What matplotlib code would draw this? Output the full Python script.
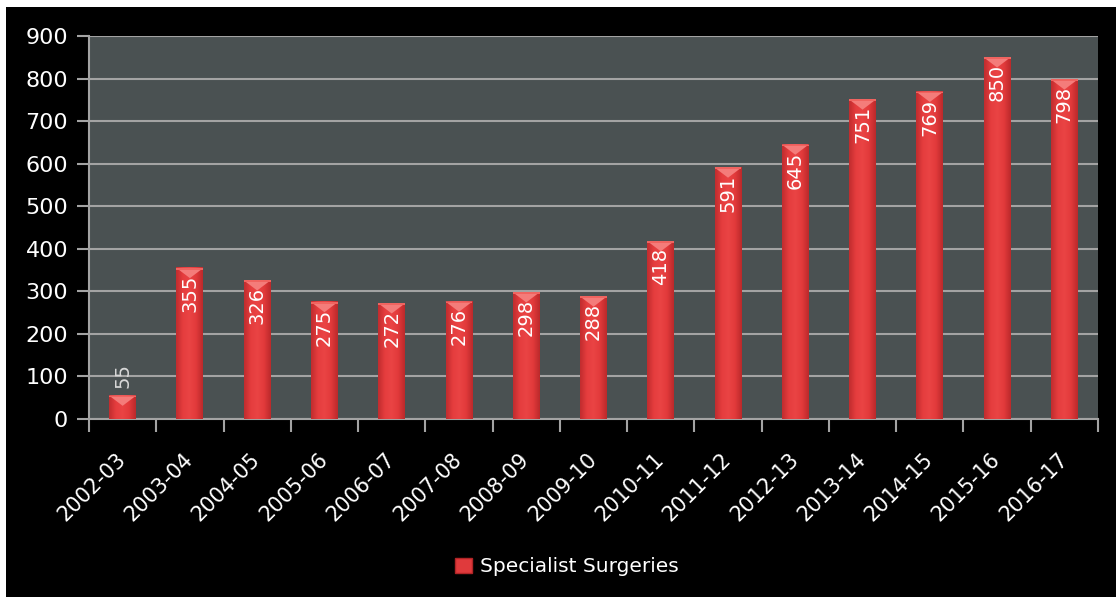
import numpy as np
import matplotlib
matplotlib.use('Agg')
from matplotlib import pyplot as plt
from matplotlib.patches import Rectangle, Polygon
from matplotlib.colors import LinearSegmentedColormap

# data
years = ['2002-03', '2003-04', '2004-05', '2005-06', '2006-07', '2007-08', '2008-09',
         '2009-10', '2010-11', '2011-12', '2012-13', '2013-14', '2014-15', '2015-16', '2016-17']
surgeries = [55, 355, 326, 275, 272, 276, 298, 288, 418, 591, 645, 751, 769, 850, 798]
yticks = [0, 100, 200, 300, 400, 500, 600, 700, 800, 900]

fig = plt.figure(figsize=(11.16, 6.01), dpi=100, facecolor='white')
# black chart area inside white border
fig.patches.append(Rectangle((6 / 1116, 4 / 601), 1 - 6 / 1116, 1 - 11 / 601,
                             transform=fig.transFigure, facecolor='black',
                             edgecolor='none', zorder=-10))

ax = fig.add_axes([89 / 1116, 1 - 419 / 601, (1098 - 89) / 1116, (419 - 36) / 601])
ax.set_facecolor('#4a5152')

grid_c = '#a3a3a3'
x = np.arange(len(years))
w = 0.4

# horizontal gradient for the cylinder look
cmap = LinearSegmentedColormap.from_list('red_bar', ['#c02c2e', '#e53d3e', '#ea4444', '#e23a3b', '#bb292b'])
grad = np.linspace(0, 1, 64).reshape(1, -1)

bars = ax.bar(x, surgeries, width=w, color='#e03a3c', zorder=3)
for b, v in zip(bars, surgeries):
    x0 = b.get_x()
    ax.imshow(grad, cmap=cmap, aspect='auto', extent=(x0, x0 + w, 0, v),
              zorder=3.5, interpolation='bicubic')
    # lighter cap: down-pointing triangle at the top
    cap = 24
    ax.add_patch(Polygon([(x0, v), (x0 + w, v), (x0 + w / 2, v - cap)],
                         closed=True, facecolor='#f47c7a', edgecolor='none', zorder=4.5))
    ax.add_patch(Rectangle((x0, v - 4), w, 4, facecolor='#f06460', edgecolor='none', zorder=4.6))

# value labels, rotated
for xi, v in zip(x, surgeries):
    if v > 150:
        ax.text(xi, v - 16, str(v), rotation=90, ha='center', va='top',
                color='white', fontsize=14, zorder=6)
    else:
        ax.text(xi, v + 18, str(v), rotation=90, ha='center', va='bottom',
                color='#d8d8d8', fontsize=14, zorder=6)

ax.set_xlim(-0.5, len(years) - 0.5)
ax.set_ylim(0, 900)
ax.set_yticks(yticks)
ax.set_yticklabels([str(t) for t in yticks], color='white', fontsize=16)
ax.yaxis.grid(True, color=grid_c, linewidth=1.5, zorder=1)
ax.set_axisbelow(True)

ax.set_xticks(x)
ax.set_xticklabels(years, rotation=45, ha='right', va='center', rotation_mode='anchor',
                   color='white', fontsize=15)
ax.set_xticks(np.arange(len(years) + 1) - 0.5, minor=True)
ax.tick_params(axis='x', which='major', length=0, pad=27)
ax.tick_params(axis='x', which='minor', length=9, width=1.5, color=grid_c, direction='out')
ax.tick_params(axis='y', length=9, width=1.5, color=grid_c, direction='out', pad=6)

for s in ['top', 'right']:
    ax.spines[s].set_visible(False)
for s in ['left', 'bottom']:
    ax.spines[s].set_color(grid_c)
    ax.spines[s].set_linewidth(1.5)

leg = fig.legend([Rectangle((0, 0), 1, 1, facecolor='#e03a3c', edgecolor='#b02426')],
                 ['Specialist Surgeries'], loc='center', bbox_to_anchor=(0.508, 0.057),
                 frameon=False, fontsize=14.5, handlelength=0.8, handleheight=0.8,
                 handletextpad=0.4)
for t in leg.get_texts():
    t.set_color('white')

fig.savefig('out.png', dpi=100, facecolor='white')
